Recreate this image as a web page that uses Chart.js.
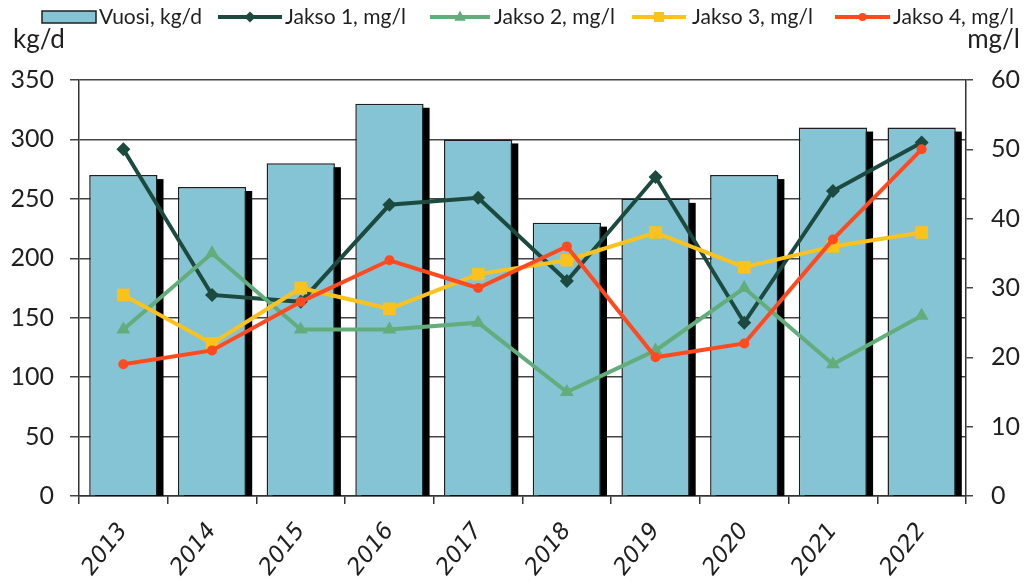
<!DOCTYPE html>
<html lang="fi">
<head>
<meta charset="UTF-8">
<title>Kuormitus</title>
<script src="https://cdn.jsdelivr.net/npm/chart.js"></script>
<style>
  body { margin: 0; background: #fff; }
</style>
</head>
<body>
<canvas id="kuorma" width="1025" height="582"></canvas>
<script>
// vuosittainen kuorma ja jaksojen pitoisuudet
const vuodet = ['2013', '2014', '2015', '2016', '2017', '2018', '2019', '2020', '2021', '2022'];
const vuosiKgD = [270, 260, 280, 330, 300, 230, 250, 270, 310, 310];
const jakso1 = [50, 29, 28, 42, 43, 31, 46, 25, 44, 51];
const jakso2 = [24, 35, 24, 24, 25, 15, 21, 30, 19, 26];
const jakso3 = [29, 22, 30, 27, 32, 34, 38, 33, 36, 38];
const jakso4 = [19, 21, 28, 34, 30, 36, 20, 22, 37, 50];
const kgTicks = [0, 50, 100, 150, 200, 250, 300, 350];
const mgTicks = [0, 10, 20, 30, 40, 50, 60];

const tumma = '#1f1f1f';

function merkki(ctx, tyyli, x, y, r, vari) {
    ctx.fillStyle = vari;
    ctx.beginPath();
    if (tyyli === 'rectRot') {
        ctx.moveTo(x, y - r); ctx.lineTo(x + r, y); ctx.lineTo(x, y + r); ctx.lineTo(x - r, y);
    } else if (tyyli === 'triangle') {
        ctx.moveTo(x, y - r); ctx.lineTo(x + r * 0.9, y + r * 0.6); ctx.lineTo(x - r * 0.9, y + r * 0.6);
    } else if (tyyli === 'rect') {
        ctx.rect(x - r * 0.7, y - r * 0.7, r * 1.4, r * 1.4);
    } else {
        ctx.arc(x, y, r, 0, Math.PI * 2);
    }
    ctx.closePath();
    ctx.fill();
}

// varjo pylväille, selite ja yksiköt
const piirrot = {
    id: 'piirrot',
    beforeDatasetDraw(chart, args) {
        if (args.index !== 0) return;
        const ctx = chart.ctx;
        const a = chart.chartArea;
        ctx.save();
        ctx.beginPath();
        ctx.rect(a.left, a.top, a.right - a.left, a.bottom - a.top);
        ctx.clip();
        ctx.fillStyle = '#000';
        args.meta.data.forEach(b => {
            const p = b.getProps(['x', 'y', 'width', 'base'], true);
            ctx.fillRect(p.x - p.width / 2 + 6, p.y + 4, p.width, p.base - p.y);
        });
        ctx.restore();
    },
    afterDraw(chart) {
        const ctx = chart.ctx;
        const ds = chart.data.datasets;
        ctx.save();
        ctx.font = '21px Lato';
        ctx.textBaseline = 'middle';
        const y = 17;

        // pylvään selite
        ctx.fillStyle = ds[0].backgroundColor;
        ctx.fillRect(42, 11, 54, 12);
        ctx.strokeStyle = tumma;
        ctx.lineWidth = 1.5;
        ctx.strokeRect(42, 11, 54, 12);
        ctx.fillStyle = tumma;
        ctx.fillText(ds[0].label, 99, y);

        const paikat = [[218, 282, 285], [430, 490, 494], [632, 686, 692], [835, 890, 893]];
        paikat.forEach((p, i) => {
            const d = ds[i + 1];
            ctx.strokeStyle = d.borderColor;
            ctx.lineWidth = 4;
            ctx.beginPath();
            ctx.moveTo(p[0], y); ctx.lineTo(p[1], y);
            ctx.stroke();
            merkki(ctx, d.pointStyle, (p[0] + p[1]) / 2, y, d.pointRadius * 0.8, d.borderColor);
            ctx.fillStyle = tumma;
            ctx.fillText(d.label, p[2], y);
        });

        ctx.font = '26px Lato';
        ctx.textAlign = 'left';
        ctx.fillText('kg/d', 13, 40);
        ctx.textAlign = 'right';
        ctx.fillText('mg/l', 1020, 40);
        ctx.restore();
    }
};

const ctx = document.getElementById('kuorma').getContext('2d');
new Chart(ctx, {
    type: 'bar',
    data: {
        labels: vuodet,
        datasets: [
            {
                type: 'bar',
                label: 'Vuosi, kg/d',
                data: vuosiKgD,
                yAxisID: 'y',
                backgroundColor: '#84C4D4',
                borderColor: tumma,
                borderWidth: 1.5,
                barPercentage: 0.77,
                categoryPercentage: 1,
                order: 5
            },
            {
                type: 'line',
                label: 'Jakso 1, mg/l',
                data: jakso1,
                yAxisID: 'y1',
                borderColor: '#1C4A3E',
                backgroundColor: '#1C4A3E',
                borderWidth: 4,
                pointStyle: 'rectRot',
                pointRadius: 7,
                pointBorderWidth: 0,
                order: 4
            },
            {
                type: 'line',
                label: 'Jakso 2, mg/l',
                data: jakso2,
                yAxisID: 'y1',
                borderColor: '#62AD7B',
                backgroundColor: '#62AD7B',
                borderWidth: 4,
                pointStyle: 'triangle',
                pointRadius: 8,
                pointBorderWidth: 0,
                order: 3
            },
            {
                type: 'line',
                label: 'Jakso 3, mg/l',
                data: jakso3,
                yAxisID: 'y1',
                borderColor: '#FBC21E',
                backgroundColor: '#FBC21E',
                borderWidth: 4,
                pointStyle: 'rect',
                pointRadius: 9,
                pointBorderWidth: 0,
                order: 2
            },
            {
                type: 'line',
                label: 'Jakso 4, mg/l',
                data: jakso4,
                yAxisID: 'y1',
                borderColor: '#FF4A1F',
                backgroundColor: '#FF4A1F',
                borderWidth: 4,
                pointStyle: 'circle',
                pointRadius: 5,
                pointBorderWidth: 0,
                order: 1
            }
        ]
    },
    options: {
        responsive: false,
        animation: false,
        devicePixelRatio: 1,
        layout: { padding: { top: 80, left: 0, right: 0, bottom: 0 } },
        plugins: {
            legend: { display: false },
            tooltip: { enabled: false }
        },
        scales: {
            x: {
                offset: true,
                grid: { offset: true, drawOnChartArea: false, drawTicks: true, tickLength: 8, color: '#333', lineWidth: 1.5 },
                border: { color: '#333', width: 1.5 },
                ticks: {
                    minRotation: 52, maxRotation: 52, padding: 14,
                    color: tumma,
                    font: { family: 'DejaVu Sans', size: 23, style: 'italic' }
                },
                afterFit(s) { s.height = 86; }
            },
            y: {
                position: 'left',
                min: kgTicks[0], max: kgTicks[kgTicks.length - 1],
                afterBuildTicks(s) { s.ticks = kgTicks.map(v => ({ value: v })); },
                grid: { color: '#444', lineWidth: 1.5, tickLength: 9 },
                border: { color: '#333', width: 1.5 },
                ticks: { padding: 16, color: tumma, font: { family: 'Lato', size: 25 } },
                afterFit(s) { s.width = 79; }
            },
            y1: {
                position: 'right',
                min: mgTicks[0], max: mgTicks[mgTicks.length - 1],
                afterBuildTicks(s) { s.ticks = mgTicks.map(v => ({ value: v })); },
                grid: { drawOnChartArea: false, color: '#444', lineWidth: 1.5, tickLength: 7 },
                border: { color: '#333', width: 1.5 },
                ticks: { padding: 18, color: tumma, font: { family: 'Lato', size: 25 } },
                afterFit(s) { s.width = 59; }
            }
        }
    },
    plugins: [piirrot]
});
</script>
</body>
</html>
